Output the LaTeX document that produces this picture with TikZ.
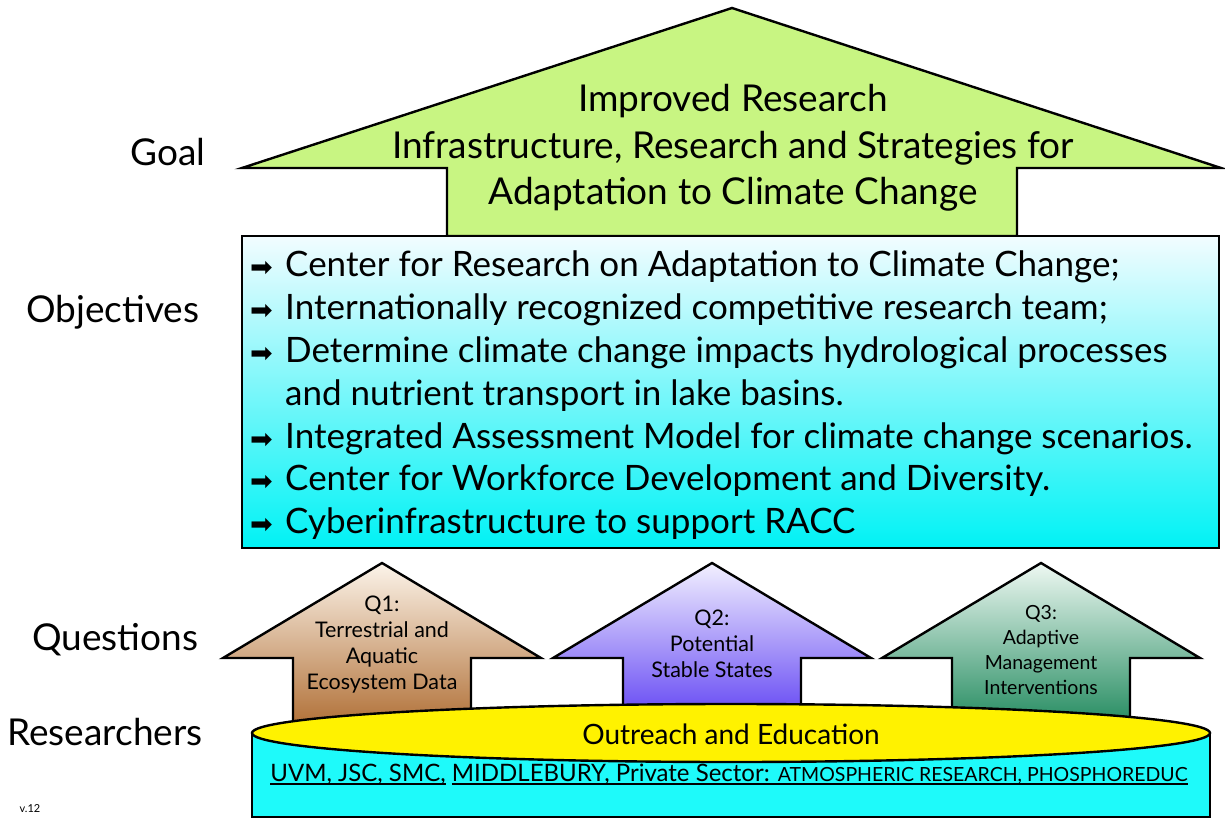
\documentclass[tikz,border=0pt]{standalone}
\usepackage{fontspec}
\setmainfont{Lato}
\newfontfamily\symfont{DejaVu Sans}

\definecolor{goalgreen}{RGB}{200,245,130}
\definecolor{objtop}{RGB}{242,252,255}
\definecolor{objbot}{RGB}{0,242,245}
\definecolor{q1top}{RGB}{252,244,234}
\definecolor{q1bot}{RGB}{172,104,44}
\definecolor{q2top}{RGB}{242,240,255}
\definecolor{q2bot}{RGB}{84,52,242}
\definecolor{q3top}{RGB}{238,248,242}
\definecolor{q3bot}{RGB}{22,132,86}
\definecolor{cylcyan}{RGB}{30,250,250}

% arrow used as bullet in the objectives list
\newcommand{\arrowbul}{\makebox[35pt][l]{\symfont\fontsize{27}{27}\selectfont ➡}}
% underlined text, rule drawn below the baseline
\newcommand{\ulbox}[1]{\setbox0\hbox{#1}\rlap{\rule[-4pt]{\wd0}{1.6pt}}\box0\relax}

\begin{document}
\begin{tikzpicture}[x=1pt, y=-1pt,
    block/.style={draw=black, line width=2.4pt},
    rowname/.style={anchor=base, inner sep=0pt, font=\fontsize{37}{37}\selectfont},
    qtext/.style={anchor=north, inner sep=0pt, align=center, font=\fontsize{21.5}{26}\selectfont},
    objlist/.style={anchor=north west, inner sep=0pt, align=left, font=\fontsize{35}{42.8}\selectfont}
  ]
  \useasboundingbox (0,0) rectangle (1225,824);

  % goal arrow and objectives box
  \filldraw[block, fill=goalgreen] (447,236) -- (447,168) -- (242,168) -- (732,8)
    -- (1221,168) -- (1017,168) -- (1017,236) -- cycle;
  \node[align=center, font=\fontsize{37}{46.5}\selectfont] (goal) at (733,148)
    {Improved Research\\Infrastructure, Research and Strategies for\\Adaptation to Climate Change};

  \shadedraw[block, top color=objtop, bottom color=objbot] (242,236) rectangle (1219,548);
  \node[objlist] (obj) at (250,251) {%
    \arrowbul Center for Research on Adaptation to Climate Change;\\
    \arrowbul Internationally recognized competitive research team;\\
    \arrowbul Determine climate change impacts hydrological processes\\
    \hspace*{35pt}and nutrient transport in lake basins.\\
    \arrowbul Integrated Assessment Model for climate change scenarios.\\
    \arrowbul Center for Workforce Development and Diversity.\\
    \arrowbul Cyberinfrastructure to support RACC};

  % question arrows
  \foreach \cx/\tc/\bc in {382/q1top/q1bot, 712/q2top/q2bot, 1041/q3top/q3bot}
    \shadedraw[block, top color=\tc, bottom color=\bc] (\cx-89,736) -- (\cx-89,658)
      -- (\cx-159,658) -- (\cx,563) -- (\cx+159,658) -- (\cx+89,658) -- (\cx+89,736) -- cycle;
  \node[qtext] (q1) at (382,596) {Q1:\\Terrestrial and\\Aquatic\\Ecosystem Data};
  \node[qtext] (q2) at (712,610) {Q2:\\Potential\\Stable States};
  \node[qtext, font=\fontsize{19.5}{25}\selectfont] (q3) at (1041,605) {Q3:\\Adaptive\\Management\\Interventions};

  % researchers cylinder
  \fill[cylcyan] (252,733) rectangle (1210,817);
  \draw[block] (252,733) -- (252,817) -- (1210,817) -- (1210,733);
  \filldraw[block, fill=yellow] (731,733) ellipse [x radius=479, y radius=29];
  \node[font=\fontsize{28}{28}\selectfont] (edu) at (731,734) {Outreach and Education};
  \node[anchor=base, inner sep=0pt, font=\fontsize{24}{24}\selectfont] (team) at (729,781)
    {\ulbox{UVM, JSC, SMC,} \ulbox{MIDDLEBURY, Private Sector: {\fontsize{19.5}{19.5}\selectfont ATMOSPHERIC RESEARCH, PHOSPHOREDUC}}};

  % row names on the left
  \node[rowname] (lgoal) at (168,165) {Goal};
  \node[rowname] (lobj) at (113,322) {Objectives};
  \node[rowname] (lq) at (115,650) {Questions};
  \node[rowname] (lres) at (105,745) {Researchers};
  \node[anchor=base, inner sep=0pt, font=\fontsize{11}{11}\selectfont] (ver) at (30,812) {v.12};
\end{tikzpicture}
\end{document}
